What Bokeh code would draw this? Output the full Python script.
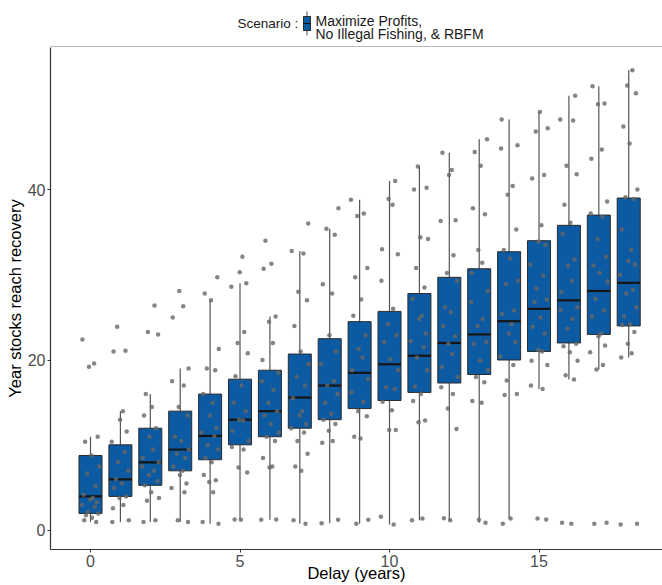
from bokeh.plotting import figure
from bokeh.models import Range1d, FixedTicker, BoxAnnotation
from bokeh.layouts import column
from bokeh.embed import file_html
from bokeh.resources import INLINE
from bokeh.core.properties import value

FONT = "Liberation Sans"
BOX_BLUE = "#0b5aa2"

# Delay before management starts (years)
delay = list(range(19))

# Box statistics: year in which stocks reach recovery
q1 = [2.0, 4.0, 5.3, 7.0, 8.3, 10.05, 11.0, 12.0, 13.0, 14.3, 15.25, 16.2, 17.3, 18.3, 20.0, 21.0, 22.0, 23.0, 24.0]
median = [4.0, 6.0, 8.0, 9.5, 11.1, 13.0, 14.0, 15.6, 17.0, 18.5, 19.5, 20.5, 22.0, 23.0, 24.55, 26.0, 27.0, 28.1, 29.05]
q3 = [8.8, 10.05, 12.0, 14.0, 16.0, 17.75, 18.8, 20.7, 22.5, 24.5, 25.7, 27.8, 29.7, 30.7, 32.7, 34.0, 35.8, 37.0, 39.0]
whisker_low = [1.0, 1.0, 1.0, 1.0, 0.8, 1.25, 1.25, 0.8, 0.86, 0.8, 0.7, 1.2, 1.2, 0.9, 1.4, 16.6, 17.7, 18.9, 20.3]
whisker_high = [11.0, 14.0, 16.0, 19.0, 27.0, 29.0, 25.1, 32.8, 35.4, 38.8, 41.0, 42.7, 44.3, 45.9, 48.2, 49.1, 51.0, 52.1, 54.0]

# Individual simulation runs for each delay
points_by_delay = [
    [22.4, 19.6, 19.2, 11.0, 10.4, 8.8, 7.5, 6.7, 5.2, 4.2, 3.8, 3.6, 3.3, 3.0, 2.8, 2.2, 2.0, 1.8, 1.5, 1.2, 1.0],
    [23.9, 21.1, 21.0, 14.0, 13.0, 11.6, 10.4, 9.2, 8.0, 7.0, 6.0, 5.5, 5.0, 4.0, 3.8, 3.0, 2.6, 1.2, 1.0],
    [26.4, 23.3, 23.0, 16.0, 14.5, 13.5, 12.0, 11.0, 9.5, 8.5, 8.0, 7.5, 7.0, 6.5, 5.8, 5.3, 4.5, 3.8, 3.5, 1.2, 1.0],
    [28.1, 26.3, 25.0, 19.0, 17.5, 17.0, 14.5, 13.5, 11.0, 10.5, 9.5, 9.0, 8.5, 7.5, 7.0, 6.5, 5.5, 5.0, 4.5, 1.2, 1.0],
    [29.7, 27.8, 27.0, 21.3, 19.0, 18.8, 16.0, 15.0, 13.5, 12.0, 11.5, 11.1, 10.0, 9.5, 8.5, 8.0, 6.5, 5.9, 5.7, 4.5, 1.0, 0.8],
    [32.1, 30.3, 29.0, 28.6, 23.3, 22.0, 20.8, 18.1, 17.0, 15.0, 14.0, 13.0, 12.9, 11.7, 10.5, 9.8, 9.5, 7.4, 6.8, 1.3, 1.25],
    [34.0, 31.3, 30.7, 25.1, 24.5, 22.0, 20.0, 18.5, 17.5, 16.5, 15.0, 14.0, 13.5, 12.5, 11.5, 11.0, 10.5, 8.5, 7.5, 7.4, 1.3, 1.25],
    [36.0, 32.8, 32.5, 28.0, 27.0, 24.0, 21.0, 19.5, 18.0, 17.0, 15.5, 14.0, 13.5, 12.5, 12.0, 11.5, 10.5, 9.0, 7.5, 7.0, 1.2, 0.8],
    [37.8, 35.4, 34.7, 28.9, 27.8, 22.9, 21.0, 19.5, 17.5, 17.0, 16.0, 15.0, 13.7, 13.0, 12.5, 11.7, 10.5, 10.3, 1.25, 0.86],
    [38.8, 37.2, 36.9, 30.8, 29.7, 27.1, 25.2, 22.9, 21.3, 20.3, 18.8, 17.8, 16.2, 15.1, 14.0, 13.4, 11.0, 10.8, 1.25, 0.8],
    [41.0, 38.9, 38.2, 33.0, 32.4, 29.3, 26.0, 24.2, 22.9, 22.1, 20.1, 18.8, 16.8, 16.6, 15.1, 14.1, 11.8, 11.8, 1.6, 0.7],
    [42.7, 40.2, 40.0, 34.4, 34.2, 30.8, 28.5, 27.2, 25.2, 24.8, 23.1, 22.2, 21.5, 20.3, 18.8, 16.9, 16.0, 15.2, 12.9, 12.7, 1.4, 1.2],
    [44.3, 42.3, 41.7, 36.4, 36.3, 32.3, 30.2, 29.3, 26.2, 25.6, 24.0, 22.8, 21.9, 20.7, 19.2, 18.0, 16.8, 16.0, 14.3, 11.9, 1.45, 1.2],
    [45.9, 44.4, 42.8, 37.8, 37.1, 32.9, 31.4, 30.2, 28.1, 26.8, 24.8, 24.0, 22.1, 21.9, 19.9, 18.8, 18.0, 17.4, 15.2, 15.0, 1.25, 0.9],
    [48.2, 45.2, 44.8, 40.4, 39.4, 35.3, 32.9, 31.9, 29.3, 28.9, 25.8, 25.4, 24.2, 23.1, 22.1, 20.4, 19.4, 17.6, 16.0, 15.9, 1.4, 0.8],
    [49.1, 47.2, 46.8, 41.7, 41.3, 35.8, 33.9, 33.5, 31.2, 29.9, 28.4, 27.1, 26.8, 25.0, 23.9, 23.1, 21.2, 21.0, 19.9, 19.4, 17.0, 16.6, 1.4, 1.3],
    [51.0, 48.2, 48.1, 42.8, 41.8, 38.2, 36.1, 34.8, 31.8, 31.1, 29.3, 28.0, 26.2, 25.9, 24.8, 23.7, 21.9, 21.6, 20.9, 19.9, 18.2, 17.7, 0.9, 0.8],
    [52.1, 50.1, 50.0, 44.7, 43.6, 38.6, 37.2, 36.8, 34.2, 32.1, 31.1, 30.2, 29.2, 27.2, 25.8, 25.1, 23.1, 22.8, 21.7, 20.9, 19.4, 18.9, 0.9, 0.8],
    [54.0, 52.2, 51.3, 47.4, 45.4, 40.0, 39.1, 38.9, 35.3, 32.9, 31.6, 31.2, 30.0, 28.2, 27.8, 26.2, 25.1, 24.2, 24.1, 23.3, 21.9, 20.8, 20.3, 0.8, 0.7],
]

x_ticks = [0, 5, 10, 15]
y_ticks = [0, 20, 40]

# Fixed horizontal spread pattern for the jittered points
SPREAD = [-0.27, 0.12, -0.05, 0.24, -0.18, 0.03, 0.29, -0.11, 0.17, -0.23, 0.08, -0.01,
          0.21, -0.29, 0.14, -0.08, 0.26, -0.15, 0.05, -0.21, 0.19, -0.03, 0.10, -0.25, 0.28]
BOX_W = 0.77

p = figure(width=662, height=538,
           x_range=Range1d(-1.338, 19.13), y_range=Range1d(-2.229, 56.66),
           output_backend="svg", toolbar_location=None,
           min_border_left=50, min_border_right=0, min_border_top=0, min_border_bottom=36,
           x_axis_label="Delay (years)", y_axis_label="Year stocks reach recovery")
p.outline_line_color = None
p.grid.visible = False

# whiskers
p.segment(x0=delay, y0=whisker_low, x1=delay, y1=q1, line_color="#555555", line_width=1.2)
p.segment(x0=delay, y0=q3, x1=delay, y1=whisker_high, line_color="#555555", line_width=1.2)
# boxes
p.vbar(x=delay, width=BOX_W, bottom=q1, top=q3, fill_color=BOX_BLUE,
       line_color="#2b2b2b", line_width=1)
# medians
p.segment(x0=[d - BOX_W / 2 for d in delay], y0=median,
          x1=[d + BOX_W / 2 for d in delay], y1=median,
          line_color="#151515", line_width=2.2)

# jittered runs
px, py = [], []
for d, vals in zip(delay, points_by_delay):
    for k, v in enumerate(vals):
        px.append(d + SPREAD[(k + 7 * d) % len(SPREAD)])
        py.append(v)
p.scatter(px, py, size=4.5, fill_color="#666666", line_color=None, alpha=0.8)

for ax in (p.xaxis, p.yaxis):
    ax.axis_line_color = "#333333"
    ax.axis_line_width = 1.2
    ax.major_tick_line_color = "#333333"
    ax.major_tick_out = 3
    ax.major_tick_in = 0
    ax.minor_tick_line_color = None
    ax.major_label_text_font = FONT
    ax.major_label_text_font_size = "16px"
    ax.major_label_text_color = "#4d4d4d"
    ax.major_label_standoff = 2
    ax.axis_label_text_font = FONT
    ax.axis_label_text_font_size = "16.5px"
    ax.axis_label_text_font_style = "normal"
    ax.axis_label_text_color = "#000000"
p.yaxis.axis_label_standoff = 1
p.xaxis.axis_label_standoff = -6
p.xaxis.ticker = FixedTicker(ticks=x_ticks)
p.yaxis.ticker = FixedTicker(ticks=y_ticks)

# Legend strip above the panel (data units equal pixels of the strip)
leg = figure(width=662, height=47, x_range=Range1d(50, 662), y_range=Range1d(47, 0),
             output_backend="svg", toolbar_location=None,
             x_axis_location=None, y_axis_location=None, min_border=0)
leg.outline_line_color = None
leg.grid.visible = False
leg.text(x=[237], y=[23], text=["Scenario :"], text_font=value(FONT),
         text_font_size="13.5px", text_baseline="middle", text_align="left",
         text_color="#1a1a1a")
leg.text(x=[315, 315], y=[20, 33], text=["Maximize Profits,", "No Illegal Fishing, & RBFM"],
         text_font=value(FONT), text_font_size="14px", text_baseline="middle",
         text_align="left", text_color="#1a1a1a")
leg.segment(x0=[306.5], y0=[11], x1=[306.5], y1=[35], line_color="#555555", line_width=1)
leg.quad(left=[303], right=[310], top=[16], bottom=[30], fill_color=BOX_BLUE,
         line_color="#2b2b2b", line_width=1)
leg.segment(x0=[303], y0=[23], x1=[310], y1=[23], line_color="#151515", line_width=1.2)
leg.add_layout(BoxAnnotation(left=0, right=662, top=45.5, bottom=47.5,
                             fill_color="#b8b8b8", fill_alpha=1.0, line_color=None))

layout = column(leg, p, spacing=0)
open("out.html", "w").write(file_html(layout, INLINE))
